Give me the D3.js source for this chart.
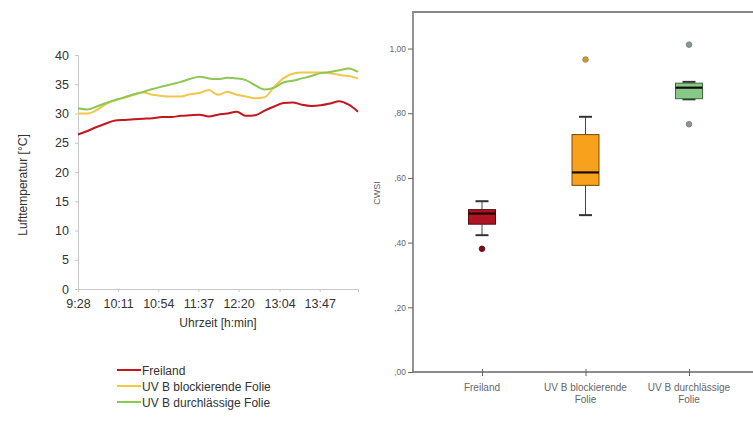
<!DOCTYPE html>
<html>
<head>
<meta charset="utf-8">
<script src="https://cdn.jsdelivr.net/npm/d3@7"></script>
<style>
  body { margin: 0; background: #fff; }
  svg { font-family: "Liberation Sans", Arial, sans-serif; }
</style>
</head>
<body>
<div id="chart"></div>
<script>
// ---- data: left chart (air temperature) ----
var times = ["9:28","9:38","9:48","9:58","10:08","10:18","10:28","10:38","10:48","10:58",
             "11:08","11:18","11:28","11:38","11:48","11:58","12:08","12:18","12:28","12:38",
             "12:48","12:58","13:08","13:18","13:28","13:38","13:48","13:58","14:08","14:18","14:28"];
var freiland  = [26.4,27.0,27.7,28.3,28.8,28.9,29.0,29.1,29.2,29.4,29.4,29.6,29.7,29.8,29.5,29.8,
                 30.0,30.3,29.6,29.7,30.5,31.2,31.8,31.9,31.5,31.3,31.4,31.7,32.1,31.5,30.3];
var blockiert = [30.0,30.0,30.6,31.6,32.3,32.7,33.2,33.6,33.2,33.0,32.9,32.9,33.3,33.5,34.0,33.2,
                 33.7,33.2,32.9,32.6,32.8,34.5,36.0,36.8,37.0,37.0,37.0,36.9,36.6,36.4,36.0];
var durchl    = [30.9,30.7,31.2,31.8,32.3,32.8,33.3,33.7,34.2,34.6,35.0,35.4,35.9,36.3,36.0,35.9,
                 36.1,36.0,35.7,34.8,34.1,34.4,35.3,35.6,36.0,36.4,36.9,37.1,37.4,37.7,37.1];
var timeTicks = ["9:28","10:11","10:54","11:37","12:20","13:04","13:47"];
var tempTicks = [0,5,10,15,20,25,30,35,40];
var seriesNames = ["Freiland","UV B blockierende Folie","UV B durchlässige Folie"];
var seriesColors = ["#c3161f","#f2c649","#8dc755"];

// ---- data: right chart (CWSI box plots) ----
var groups = ["Freiland","UV B blockierende Folie","UV B durchlässige Folie"];
var groupLines = [["Freiland"],["UV B blockierende","Folie"],["UV B durchlässige","Folie"]];
var whiskerLow  = [0.423,0.485,0.843];
var q1          = [0.457,0.577,0.845];
var median      = [0.490,0.617,0.879];
var q3          = [0.502,0.734,0.893];
var whiskerHigh = [0.528,0.789,0.897];
var outliers    = [[0.381],[0.966],[1.012,0.766]];
var cwsiTicks = [0,0.2,0.4,0.6,0.8,1.0];
var boxFill   = ["#b01322","#f7a11d","#86c989"];
var boxStroke = ["#5a0a10","#7a4a08","#3d6b3e"];
var dotFill   = ["#7d0a18","#c99a3c","#8a9a88"];

var svgWidth = 753, svgHeight = 421;
var svg = d3.select("#chart").append("svg")
  .attr("width", svgWidth).attr("height", svgHeight);

// ================= left line chart =================
var L = {left: 78, right: 358, top: 55, bottom: 289};

function toMin(s) {
  var p = s.split(":");
  return (+p[0]) * 60 + (+p[1]);
}
var t0 = toMin(times[0]);

var xTime = d3.scaleLinear()
  .domain([0, toMin(times[times.length - 1]) - t0])
  .range([L.left, L.right]);
var yTemp = d3.scaleLinear().domain([0, 40]).range([L.bottom, L.top]);

var leftG = svg.append("g");

// y axis
var yAxisL = leftG.append("g")
  .attr("transform", `translate(${L.left},0)`)
  .call(d3.axisLeft(yTemp).tickValues(tempTicks).tickSize(3).tickPadding(6));
yAxisL.select(".domain").attr("stroke", "#c8c8c8");
yAxisL.selectAll(".tick line").attr("stroke", "#c8c8c8");
yAxisL.selectAll("text").attr("font-size", "12.5px").attr("fill", "#333")
  .attr("font-family", "Liberation Sans, Arial, sans-serif");

// x axis
var xAxisL = leftG.append("g")
  .attr("transform", `translate(0,${L.bottom})`)
  .call(d3.axisBottom(xTime)
    .tickValues(timeTicks.map(function(s) { return toMin(s) - t0; }))
    .tickFormat(function(d, i) { return timeTicks[i]; })
    .tickSize(3).tickPadding(7));
xAxisL.select(".domain").attr("stroke", "#c8c8c8");
xAxisL.selectAll(".tick line").attr("stroke", "#c8c8c8");
xAxisL.selectAll("text").attr("font-size", "12.5px").attr("fill", "#333")
  .attr("font-family", "Liberation Sans, Arial, sans-serif");

// lines
var line = d3.line()
  .x(function(d, i) { return xTime(toMin(times[i]) - t0); })
  .y(function(d) { return yTemp(d); })
  .curve(d3.curveMonotoneX);

[freiland, blockiert, durchl].forEach(function(vals, k) {
  leftG.append("path")
    .datum(vals)
    .attr("fill", "none")
    .attr("stroke", seriesColors[k])
    .attr("stroke-width", 2)
    .attr("d", line);
});

// axis titles
leftG.append("text")
  .attr("transform", "rotate(-90)")
  .attr("x", -185)
  .attr("y", 27)
  .attr("text-anchor", "middle")
  .attr("font-size", "12px")
  .attr("fill", "#333")
  .text("Lufttemperatur [°C]");

leftG.append("text")
  .attr("x", 218)
  .attr("y", 327)
  .attr("text-anchor", "middle")
  .attr("font-size", "12px")
  .attr("fill", "#333")
  .text("Uhrzeit [h:min]");

// legend
var legend = leftG.append("g").attr("transform", "translate(117,370)");
seriesNames.forEach(function(name, k) {
  var row = legend.append("g").attr("transform", `translate(0,${k * 16})`);
  row.append("line")
    .attr("x1", 0).attr("x2", 24).attr("y1", 0).attr("y2", 0)
    .attr("stroke", seriesColors[k]).attr("stroke-width", 2);
  row.append("text")
    .attr("x", 25).attr("y", 4.5)
    .attr("font-size", "12px")
    .attr("fill", "#333")
    .text(name);
});

// ================= right box plot =================
var R = {left: 413, right: 753, top: 12, bottom: 372};

var yCwsi = d3.scaleLinear().domain([0, 1.113]).range([R.bottom, R.top]);
var xGrp = d3.scalePoint().domain(groups).range([482, 689]);

var rightG = svg.append("g");

// frame
rightG.append("path")
  .attr("d", `M${R.right},${R.top}H${R.left}V${R.bottom}`)
  .attr("fill", "none")
  .attr("stroke", "#888")
  .attr("stroke-width", 1.8);

var yAxisR = rightG.append("g")
  .attr("transform", `translate(${R.left},0)`)
  .call(d3.axisLeft(yCwsi).tickValues(cwsiTicks).tickSize(5).tickPadding(2)
    .tickFormat(function(d) {
      var s = d3.format(".2f")(d).replace(".", ",");
      return s.charAt(0) === "0" ? s.slice(1) : s;
    }));
yAxisR.select(".domain").remove();
yAxisR.selectAll(".tick line").attr("stroke", "#666");
yAxisR.selectAll("text").attr("font-size", "8.5px").attr("fill", "#666")
  .attr("font-family", "Liberation Sans, Arial, sans-serif");

var xAxisR = rightG.append("g")
  .attr("transform", `translate(0,${R.bottom})`)
  .call(d3.axisBottom(xGrp).tickSize(4).tickFormat(""));
xAxisR.select(".domain").attr("d", `M${R.left},0H${R.right}`).attr("stroke", "#666").attr("stroke-width", 1.5);
xAxisR.selectAll(".tick line").attr("stroke", "#666").attr("y1", -3);

groups.forEach(function(g, i) {
  var t = rightG.append("text")
    .attr("x", xGrp(g))
    .attr("y", 391)
    .attr("text-anchor", "middle")
    .attr("font-size", "10px")
    .attr("fill", "#666");
  groupLines[i].forEach(function(s, j) {
    t.append("tspan").attr("x", xGrp(g)).attr("dy", j === 0 ? 0 : 12).text(s);
  });
});

rightG.append("text")
  .attr("transform", "rotate(-90)")
  .attr("x", -193)
  .attr("y", 380)
  .attr("text-anchor", "middle")
  .attr("font-size", "9px")
  .attr("fill", "#666")
  .text("CWSI");

var boxW = 27, capW = 13;
groups.forEach(function(g, i) {
  var cx = xGrp(g);
  var bg = rightG.append("g");
  // whisker stems
  bg.append("line")
    .attr("x1", cx).attr("x2", cx)
    .attr("y1", yCwsi(whiskerHigh[i])).attr("y2", yCwsi(q3[i]))
    .attr("stroke", "#444").attr("stroke-width", 1);
  bg.append("line")
    .attr("x1", cx).attr("x2", cx)
    .attr("y1", yCwsi(q1[i])).attr("y2", yCwsi(whiskerLow[i]))
    .attr("stroke", "#444").attr("stroke-width", 1);
  // caps
  [whiskerHigh[i], whiskerLow[i]].forEach(function(v) {
    bg.append("line")
      .attr("x1", cx - capW / 2).attr("x2", cx + capW / 2)
      .attr("y1", yCwsi(v)).attr("y2", yCwsi(v))
      .attr("stroke", "#333").attr("stroke-width", 2);
  });
  // box
  bg.append("rect")
    .attr("x", cx - boxW / 2)
    .attr("y", yCwsi(q3[i]))
    .attr("width", boxW)
    .attr("height", yCwsi(q1[i]) - yCwsi(q3[i]))
    .attr("fill", boxFill[i])
    .attr("stroke", boxStroke[i])
    .attr("stroke-width", 1);
  // median
  bg.append("line")
    .attr("x1", cx - boxW / 2).attr("x2", cx + boxW / 2)
    .attr("y1", yCwsi(median[i])).attr("y2", yCwsi(median[i]))
    .attr("stroke", "#1a0a05").attr("stroke-width", 2.2);
  // outliers
  outliers[i].forEach(function(v) {
    bg.append("circle")
      .attr("cx", cx).attr("cy", yCwsi(v)).attr("r", 2.8)
      .attr("fill", dotFill[i])
      .attr("stroke", d3.color(dotFill[i]).darker(0.6))
      .attr("stroke-width", 0.8);
  });
});
</script>
</body>
</html>
